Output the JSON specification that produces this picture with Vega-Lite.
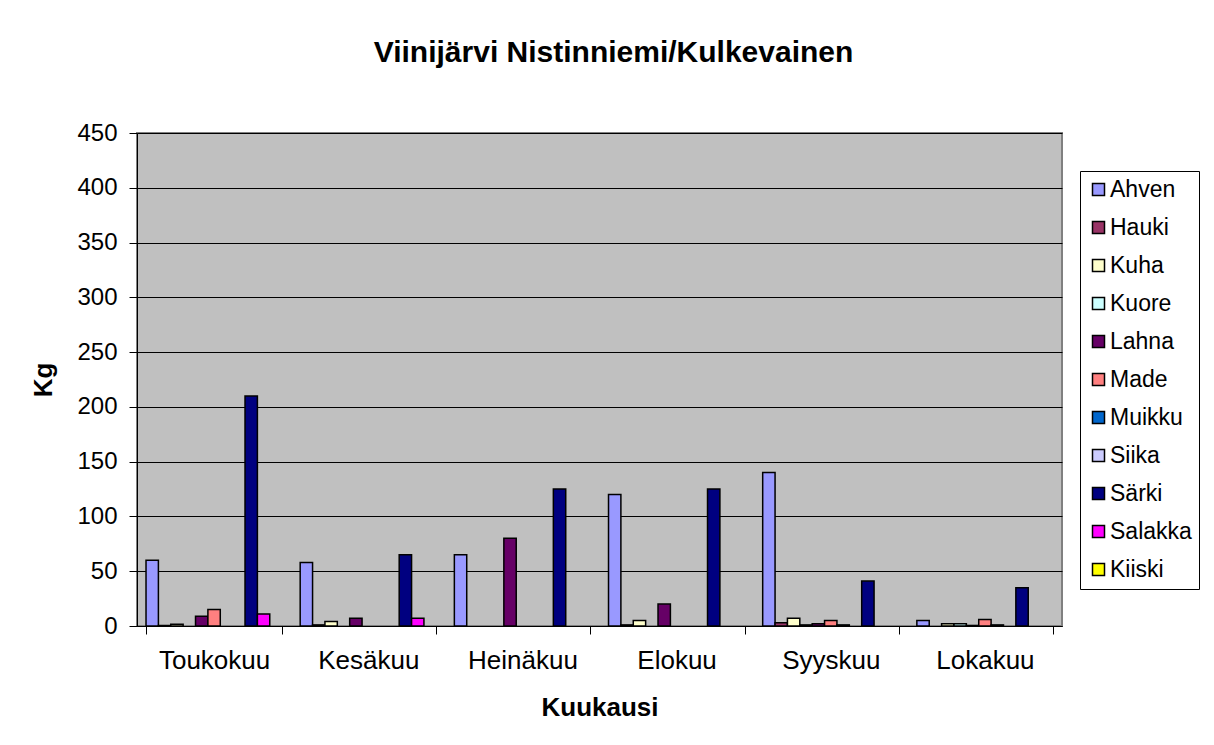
{
  "$schema": "https://vega.github.io/schema/vega-lite/v6.json",
  "autosize": {"type": "none"},
  "padding": {"left": 137, "top": 133, "right": 152, "bottom": 119},
  "width": 925,
  "height": 493,
  "background": "white",
  "title": {
    "text": "Viinijärvi Nistinniemi/Kulkevainen",
    "font": "Liberation Sans",
    "fontSize": 30,
    "fontWeight": "bold",
    "color": "black",
    "anchor": "middle",
    "frame": "group",
    "baseline": "alphabetic",
    "offset": 29,
    "dx": 14
  },
  "data": {
    "values": [
      {"kuukausi": "Toukokuu", "laji": "Ahven", "kg": 60},
      {"kuukausi": "Toukokuu", "laji": "Hauki", "kg": 0.5},
      {"kuukausi": "Toukokuu", "laji": "Kuha", "kg": 1.5},
      {"kuukausi": "Toukokuu", "laji": "Lahna", "kg": 9},
      {"kuukausi": "Toukokuu", "laji": "Made", "kg": 15},
      {"kuukausi": "Toukokuu", "laji": "Särki", "kg": 210},
      {"kuukausi": "Toukokuu", "laji": "Salakka", "kg": 11},
      {"kuukausi": "Kesäkuu", "laji": "Ahven", "kg": 58},
      {"kuukausi": "Kesäkuu", "laji": "Hauki", "kg": 1},
      {"kuukausi": "Kesäkuu", "laji": "Kuha", "kg": 4},
      {"kuukausi": "Kesäkuu", "laji": "Lahna", "kg": 7},
      {"kuukausi": "Kesäkuu", "laji": "Särki", "kg": 65},
      {"kuukausi": "Kesäkuu", "laji": "Salakka", "kg": 7},
      {"kuukausi": "Heinäkuu", "laji": "Ahven", "kg": 65},
      {"kuukausi": "Heinäkuu", "laji": "Lahna", "kg": 80},
      {"kuukausi": "Heinäkuu", "laji": "Särki", "kg": 125},
      {"kuukausi": "Elokuu", "laji": "Ahven", "kg": 120},
      {"kuukausi": "Elokuu", "laji": "Hauki", "kg": 1},
      {"kuukausi": "Elokuu", "laji": "Kuha", "kg": 5},
      {"kuukausi": "Elokuu", "laji": "Lahna", "kg": 20},
      {"kuukausi": "Elokuu", "laji": "Särki", "kg": 125},
      {"kuukausi": "Syyskuu", "laji": "Ahven", "kg": 140},
      {"kuukausi": "Syyskuu", "laji": "Hauki", "kg": 3},
      {"kuukausi": "Syyskuu", "laji": "Kuha", "kg": 7},
      {"kuukausi": "Syyskuu", "laji": "Kuore", "kg": 1},
      {"kuukausi": "Syyskuu", "laji": "Lahna", "kg": 2},
      {"kuukausi": "Syyskuu", "laji": "Made", "kg": 5},
      {"kuukausi": "Syyskuu", "laji": "Muikku", "kg": 1},
      {"kuukausi": "Syyskuu", "laji": "Särki", "kg": 41},
      {"kuukausi": "Lokakuu", "laji": "Ahven", "kg": 5},
      {"kuukausi": "Lokakuu", "laji": "Kuha", "kg": 2},
      {"kuukausi": "Lokakuu", "laji": "Kuore", "kg": 2},
      {"kuukausi": "Lokakuu", "laji": "Lahna", "kg": 0.5},
      {"kuukausi": "Lokakuu", "laji": "Made", "kg": 6},
      {"kuukausi": "Lokakuu", "laji": "Muikku", "kg": 1},
      {"kuukausi": "Lokakuu", "laji": "Särki", "kg": 35}
    ]
  },
  "mark": {"type": "bar", "stroke": "black", "strokeWidth": 1.5},
  "encoding": {
    "x": {
      "field": "kuukausi",
      "type": "nominal",
      "sort": ["Toukokuu", "Kesäkuu", "Heinäkuu", "Elokuu", "Syyskuu", "Lokakuu"],
      "scale": {"paddingInner": 0.117, "paddingOuter": 0.0585},
      "axis": {
        "title": "Kuukausi",
        "labelAngle": 0,
        "labelFontSize": 26,
        "tickBand": "extent",
        "tickSize": 8,
        "labelPadding": 13,
        "titlePadding": 21
      }
    },
    "xOffset": {
      "field": "laji",
      "type": "nominal",
      "scale": {
        "domain": ["Ahven", "Hauki", "Kuha", "Kuore", "Lahna", "Made", "Muikku", "Siika", "Särki", "Salakka", "Kiiski"],
        "paddingInner": 0,
        "paddingOuter": 0
      }
    },
    "y": {
      "field": "kg",
      "type": "quantitative",
      "scale": {"domain": [0, 450], "nice": false},
      "axis": {
        "title": "Kg",
        "values": [0, 50, 100, 150, 200, 250, 300, 350, 400, 450],
        "grid": true,
        "gridColor": "black",
        "gridWidth": 1,
        "gridOpacity": 1,
        "tickSize": 8,
        "labelPadding": 12,
        "titlePadding": 20
      }
    },
    "color": {
      "field": "laji",
      "type": "nominal",
      "scale": {
        "domain": ["Ahven", "Hauki", "Kuha", "Kuore", "Lahna", "Made", "Muikku", "Siika", "Särki", "Salakka", "Kiiski"],
        "range": ["#9999FF", "#993366", "#FFFFCC", "#CCFFFF", "#660066", "#FF8080", "#0066CC", "#CCCCFF", "#000080", "#FF00FF", "#FFFF00"]
      },
      "legend": {
        "title": null,
        "orient": "none",
        "legendX": 943,
        "legendY": 38,
        "strokeColor": "black",
        "padding": 7,
        "symbolType": "square",
        "symbolSize": 144,
        "symbolStrokeColor": "black",
        "symbolStrokeWidth": 1.5,
        "labelFont": "Liberation Sans",
        "labelFontSize": 23,
        "labelColor": "black",
        "labelOffset": 0,
        "rowPadding": 14
      }
    }
  },
  "config": {
    "view": {"fill": "#C0C0C0", "stroke": "#808080", "strokeWidth": 2},
    "axis": {
      "labelFont": "Liberation Sans",
      "labelFontSize": 24,
      "labelColor": "black",
      "titleFont": "Liberation Sans",
      "titleFontSize": 26,
      "titleFontWeight": "bold",
      "titleColor": "black",
      "domainColor": "black",
      "domainWidth": 1,
      "tickColor": "black",
      "tickWidth": 1
    },
    "axisX": {"grid": false}
  }
}
